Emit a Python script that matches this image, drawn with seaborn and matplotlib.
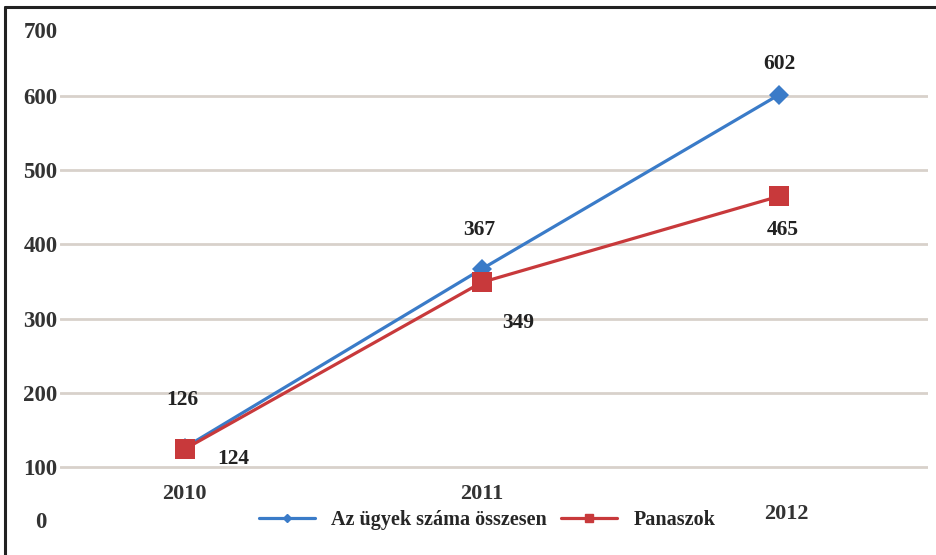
import pandas as pd
import matplotlib.pyplot as plt
import matplotlib.transforms as mtransforms
from matplotlib.lines import Line2D
import seaborn as sns

# adatok
years = [2010, 2011, 2012]
osszes = [126, 367, 602]
panaszok = [124, 349, 465]
series_names = ["Az ügyek száma összesen", "Panaszok"]
y_ticks = [0, 100, 200, 300, 400, 500, 600, 700]

df = pd.DataFrame({
    "ev": years * 2,
    "ertek": osszes + panaszok,
    "sorozat": [series_names[0]] * len(years) + [series_names[1]] * len(years),
})

sns.set_style("white")
plt.rcParams['font.family'] = ['Liberation Serif', 'DejaVu Serif']
plt.rcParams['font.weight'] = 'bold'

fig = plt.figure(figsize=(9.36, 5.55), dpi=100)
ax = fig.add_axes([0.064, 0.0252, 0.927, 0.935])

colors = {series_names[0]: '#3a7bc8', series_names[1]: '#c8393b'}
sns.lineplot(data=df, x='ev', y='ertek', hue='sorozat', style='sorozat',
             markers={series_names[0]: 'D', series_names[1]: 's'}, dashes=False,
             palette=colors, linewidth=2.3, markersize=10, markeredgewidth=0,
             legend=False, ax=ax)
ax.lines[1].set_markersize(15)

ax.set_xlim(2009.58, 2012.5)
ax.set_ylim(0, 700)
ax.set_xlabel("")
ax.set_ylabel("")
for s in ax.spines.values():
    s.set_visible(False)

# rácsvonalak
ax.set_yticks(y_ticks)
ax.yaxis.grid(True, color='#d8d1cb', linewidth=2)
gl = ax.yaxis.get_gridlines()
gl[0].set_visible(False)
gl[-1].set_visible(False)

ax.tick_params(axis='y', length=0, pad=14, labelsize=16.5, labelcolor='#333333')
for lab in ax.get_yticklabels():
    lab.set_ha('center')
ylabs = ax.get_yticklabels()
ylabs[0].set_transform(ylabs[0].get_transform() + mtransforms.ScaledTranslation(0, 21 / 100, fig.dpi_scale_trans))
ylabs[-1].set_transform(ylabs[-1].get_transform() + mtransforms.ScaledTranslation(0, -8 / 100, fig.dpi_scale_trans))

ax.set_xticks(years)
ax.set_xticklabels([str(y) for y in years])
ax.tick_params(axis='x', length=0, pad=-41, labelsize=16, labelcolor='#333333')
xlabs = ax.get_xticklabels()
xlabs[-1].set_transform(xlabs[-1].get_transform() + mtransforms.ScaledTranslation(7 / 100, -20 / 100, fig.dpi_scale_trans))

# adatcímkék (eltolás pontban)
offs_osszes = [(-2, 34), (-2, 28), (0, 22)]
offs_panasz = [(35, -7), (26, -29), (3, -24)]
for x, v, o in zip(years, osszes, offs_osszes):
    ax.annotate(str(v), (x, v), xytext=o, textcoords='offset points',
                ha='center', va='center', fontsize=15.5, color='#222222')
for x, v, o in zip(years, panaszok, offs_panasz):
    ax.annotate(str(v), (x, v), xytext=o, textcoords='offset points',
                ha='center', va='center', fontsize=15.5, color='#222222')

handles = [
    Line2D([], [], color=colors[series_names[0]], lw=2.3, marker='D', markersize=4),
    Line2D([], [], color=colors[series_names[1]], lw=2.3, marker='s', markersize=6),
]
ax.legend(handles, series_names, loc='center', bbox_to_anchor=(487 / 936, 35 / 555),
          bbox_transform=fig.transFigure, ncol=2, frameon=False, fontsize=14.5,
          handlelength=2.8, handletextpad=0.8, columnspacing=0.7)

# keret
fig.add_artist(Line2D([5 / 936, 5 / 936], [0, 1 - 7 / 555], transform=fig.transFigure,
                      color='#222222', lw=2.2))
fig.add_artist(Line2D([5 / 936, 1], [1 - 7 / 555, 1 - 7 / 555], transform=fig.transFigure,
                      color='#222222', lw=2.2))

fig.savefig("out.png", dpi=100, facecolor='white')
